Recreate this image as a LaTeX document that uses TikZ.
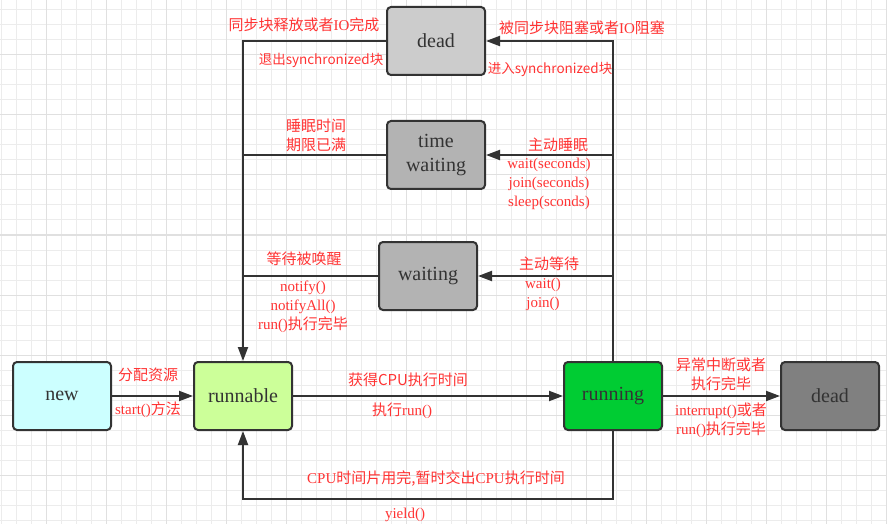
\documentclass[tikz,border=0pt]{standalone}
\usepackage{fontspec}
\setmainfont{Liberation Serif}
\newfontfamily\cjk{Noto Sans CJK SC}
\usepackage{xcolor}
\usetikzlibrary{arrows.meta, positioning, calc}

\definecolor{edge}{RGB}{51,51,51}
\definecolor{boxtext}{RGB}{51,51,51}
\definecolor{lblred}{RGB}{255,51,51}
\definecolor{gridminor}{RGB}{236,236,236}
\definecolor{gridmajor}{RGB}{224,224,224}
\definecolor{newfill}{RGB}{204,255,255}
\definecolor{runnablefill}{RGB}{204,255,153}
\definecolor{runningfill}{RGB}{0,204,51}
\definecolor{deadfill}{RGB}{128,128,128}
\definecolor{blockfill}{RGB}{204,204,204}
\definecolor{waitfill}{RGB}{179,179,179}

\newcommand{\zh}[1]{{\cjk #1}}

\begin{document}
\begin{tikzpicture}[x=1pt, y=-1pt, >={Triangle[length=14pt,width=10pt]},
  state/.style={draw=edge, line width=2pt, rounded corners=4pt, minimum width=98pt,
    minimum height=68pt, text=boxtext, align=center, font=\fontsize{20}{24}\selectfont},
  lbl/.style={text=lblred, inner sep=0pt, align=center, font=\fontsize{15}{19}\selectfont},
  narrowlbl/.style={lbl, font=\fontsize{13.5}{17}\selectfont},
  link/.style={draw=edge, line width=2pt}]
  \useasboundingbox (0,0) rectangle (887,524);
  % background grid
  \foreach \gx in {0,...,59} \draw[gridminor, line width=1pt] ({1+15*\gx},0) -- ({1+15*\gx},524);
  \foreach \gy in {0,...,34} \draw[gridminor, line width=1pt] (0,{10+15*\gy}) -- (887,{10+15*\gy});
  \foreach \gx in {0,...,14} \draw[gridmajor, line width=1pt] ({46+60*\gx},0) -- ({46+60*\gx},524);
  \foreach \gy in {0,...,7} \draw[gridmajor, line width=1pt] (0,{55+60*\gy}) -- (887,{55+60*\gy});

  % states
  \node[state, fill=newfill] (new) at (62,396) {new};
  \node[state, fill=runnablefill] (runnable) at (243,396) {runnable};
  \node[state, fill=runningfill] (running) at (613,396) {running};
  \node[state, fill=deadfill] (dead) at (830,396) {dead};
  \node[state, fill=blockfill] (blocked) at (436,41) {dead};
  \node[state, fill=waitfill] (timewait) at (436,155) {time\\waiting};
  \node[state, fill=waitfill] (waiting) at (428,276) {waiting};
  \coordinate (yieldturn) at (428,499);

  % transitions
  \draw[link, ->] (new) -- (runnable);
  \draw[link, ->] (runnable) -- (running);
  \draw[link, ->] (running) -- (dead);
  \draw[link, ->] (blocked.west) -| (runnable.north);
  \draw[link] (timewait.west) -- (timewait.west -| runnable.north);
  \draw[link] (waiting.west) -- (waiting.west -| runnable.north);
  \draw[link, ->] (running.north) |- (blocked.east);
  \draw[link, ->] (running.north |- timewait.east) -- (timewait.east);
  \draw[link, ->] (running.north |- waiting.east) -- (waiting.east);
  \draw[link, ->] (running.south) |- (yieldturn) -| (runnable.south);

  % labels
  \node[lbl] (unblockup) at (304,25) {\zh{同步块释放或者}IO\zh{完成}};
  \node[narrowlbl] (unblockdown) at (321,60) {\zh{退出synchronized块}};
  \node[lbl] (blockup) at (582,28) {\zh{被同步块阻塞或者}IO\zh{阻塞}};
  \node[narrowlbl] (blockdown) at (550,69) {\zh{进入synchronized块}};
  \node[lbl] (timeoutup) at (316,135) {\zh{睡眠时间}\\\zh{期限已满}};
  \node[lbl] (sleepup) at (558,145) {\zh{主动睡眠}};
  \node[lbl] (sleepdown) at (549,184) {wait(seconds)\\join(seconds)\\sleep(sconds)};
  \node[lbl] (notifyup) at (304,259) {\zh{等待被唤醒}};
  \node[lbl] (notifydown) at (303,307) {notify()\\notifyAll()\\run()\zh{执行完毕}};
  \node[lbl] (waitup) at (549,264) {\zh{主动等待}};
  \node[lbl] (waitdown) at (543,294) {wait()\\join()};
  \node[lbl] (startup) at (148,375) {\zh{分配资源}};
  \node[lbl] (startdown) at (148,410) {start()\zh{方法}};
  \node[lbl] (runup) at (408,380) {\zh{获得CPU执行时间}};
  \node[lbl] (rundown) at (402,411) {\zh{执行}run()};
  \node[lbl] (endup) at (721,374) {\zh{异常中断或者}\\\zh{执行完毕}};
  \node[lbl] (enddown) at (721,420) {interrupt()\zh{或者}\\run()\zh{执行完毕}};
  \node[lbl] (yieldup) at (436,479) {CPU\zh{时间片用完,暂时交出}CPU\zh{执行时间}};
  \node[lbl] (yielddown) at (405,515) {yield()};
\end{tikzpicture}
\end{document}
